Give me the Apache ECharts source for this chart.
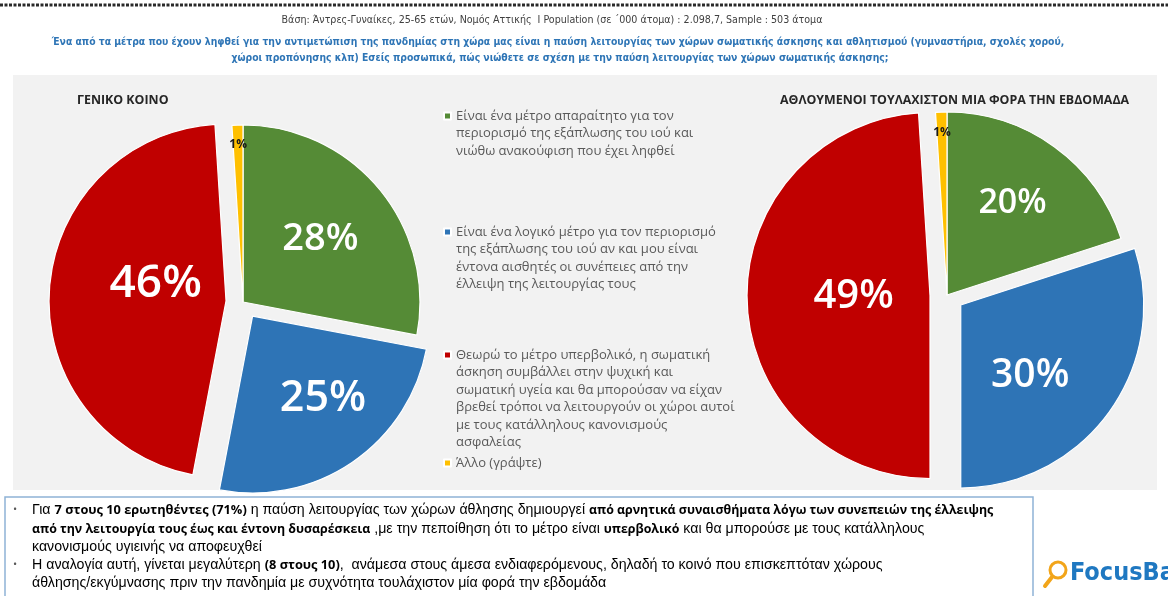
<!DOCTYPE html>
<html>
<head>
<meta charset="utf-8">
<script src="https://cdn.jsdelivr.net/npm/echarts@6/dist/echarts.min.js"></script>
<style>
  html, body { margin: 0; padding: 0; background: #ffffff; }
  #chart { width: 1168px; height: 596px; }
</style>
</head>
<body>
<div id="chart"></div>
<script>
// Answer options, each split into the lines shown in the legend
const categories = [
  ['Είναι ένα μέτρο απαραίτητο για τον', 'περιορισμό της εξάπλωσης του ιού και', 'νιώθω ανακούφιση που έχει ληφθεί'],
  ['Είναι ένα λογικό μέτρο για τον περιορισμό', 'της εξάπλωσης του ιού αν και μου είναι', 'έντονα αισθητές οι συνέπειες από την', 'έλλειψη της λειτουργίας τους'],
  ['Θεωρώ το μέτρο υπερβολικό, η σωματική', 'άσκηση συμβάλλει στην ψυχική και', 'σωματική υγεία και θα μπορούσαν να είχαν', 'βρεθεί τρόποι να λειτουργούν οι χώροι αυτοί', 'με τους κατάλληλους κανονισμούς', 'ασφαλείας'],
  ['Άλλο (γράψτε)']
];
// Shares (%) per group
const generalPublic = [28, 25, 46, 1];
const weeklyAthletes = [20, 30, 49, 1];
const groupTitles = ['ΓΕΝΙΚΟ ΚΟΙΝΟ', 'ΑΘΛΟΥΜΕΝΟΙ ΤΟΥΛΑΧΙΣΤΟΝ ΜΙΑ ΦΟΡΑ ΤΗΝ ΕΒΔΟΜΑΔΑ'];

const baseLine = 'Βάση: Άντρες-Γυναίκες, 25-65 ετών, Νομός Αττικής  I Population (σε ΄000 άτομα) : 2.098,7, Sample : 503 άτομα';
const questionLines = [
  'Ένα από τα μέτρα που έχουν ληφθεί για την αντιμετώπιση της πανδημίας στη χώρα μας είναι η παύση λειτουργίας των χώρων σωματικής άσκησης και αθλητισμού (γυμναστήρια, σχολές χορού,',
  'χώροι προπόνησης κλπ) Εσείς προσωπικά, πώς νιώθετε σε σχέση με την παύση λειτουργίας των χώρων σωματικής άσκησης;'
];
const noteLines = [
  '{n|Για }{b|7 στους 10 ερωτηθέντες (71%)}{n| η παύση λειτουργίας των χώρων άθλησης δημιουργεί }{k|από αρνητικά συναισθήματα λόγω των συνεπειών της έλλειψης}',
  '{k|από την λειτουργία τους έως και έντονη δυσαρέσκεια}{n| ,με την πεποίθηση ότι το μέτρο είναι }{k|υπερβολικό}{n| και θα μπορούσε με τους κατάλληλους}',
  '{n|κανονισμούς υγιεινής να αποφευχθεί}',
  '{n|Η αναλογία αυτή, γίνεται μεγαλύτερη }{b|(8 στους 10)}{n|,  ανάμεσα στους άμεσα ενδιαφερόμενους, δηλαδή το κοινό που επισκεπτόταν χώρους}',
  '{n|άθλησης/εκγύμνασης πριν την πανδημία με συχνότητα τουλάχιστον μία φορά την εβδομάδα}'
];

const names = categories.map(lines => lines.join(' '));
const colors = ['#558b36', '#2e74b6', '#c00000', '#ffc000'];
const SANS = "'Open Sans', 'Noto Sans', sans-serif";
const NARROW = "'Liberation Sans Narrow', 'DejaVu Sans Condensed', 'Liberation Sans', sans-serif";
const REGULAR = "'Liberation Sans', Arial, sans-serif";

// Exploded slices: the two larger answer groups pull away from the centre
const exploded = [false, true, true, false];

function pieSeries(values, center, radius, labelSizes, labelNudges) {
  return {
    type: 'pie',
    center: center,
    radius: radius,
    startAngle: 90,
    clockwise: true,
    selectedMode: 'multiple',
    selectedOffset: 17,
    avoidLabelOverlap: false,
    emphasis: { disabled: true },
    itemStyle: { borderColor: '#ffffff', borderWidth: 1.2 },
    label: {
      position: 'inside',
      formatter: '{c}%',
      fontFamily: SANS,
      fontWeight: 600,
      color: '#ffffff'
    },
    labelLine: { show: false },
    labelLayout: function (p) {
      // the tiny "other" slice carries its label near the rim
      if (p.dataIndex === 3) return { dy: -0.37 * radius, dx: -2 };
      const d = labelNudges[p.dataIndex];
      return { dx: d[0], dy: d[1] };
    },
    data: values.map((v, i) => ({
      name: names[i],
      value: v,
      selected: exploded[i],
      itemStyle: { color: colors[i] },
      label: i === 3
        ? { fontSize: 12, fontWeight: 'bold', color: '#1a1a1a' }
        : { fontSize: labelSizes[i] }
    }))
  };
}

// Legend entries: one block each, the marker sitting on the first text line
const LH = 17.5;
const legendFirstLine = [116, 232, 355, 463];
const legends = categories.map((lines, i) => {
  const n = lines.length;
  // leading blank lines keep the marker level with the first line of text
  const pad = new Array(n - 1).fill('').map(() => ' ');
  return {
    data: [names[i]],
    left: 443,
    top: legendFirstLine[i] - (2 * n - 1) * LH / 2,
    padding: 0,
    icon: 'rect',
    itemWidth: 7,
    itemHeight: 7,
    selectedMode: false,
    formatter: () => pad.concat(lines).join('\n'),
    textStyle: {
      fontFamily: SANS,
      fontSize: 13,
      color: '#595959',
      lineHeight: LH
    }
  };
});

const chart = echarts.init(document.getElementById('chart'), null, { renderer: 'canvas' });

const titleStyle = { fontFamily: SANS, fontSize: 12.4, fontWeight: 'bold', color: '#262626' };

const option = {
  backgroundColor: '#ffffff',
  animation: false,
  title: [
    { text: groupTitles[0], left: 72, top: 89, textStyle: titleStyle },
    { text: groupTitles[1], left: 775, top: 89, textStyle: titleStyle }
  ],
  legend: legends,
  graphic: [
    // dotted rule along the top
    { type: 'line', z: 0, silent: true, shape: { x1: 0, y1: 5, x2: 1168, y2: 5 },
      style: { stroke: '#2a2a2a', lineWidth: 3, lineDash: [3, 1.5] } },
    { type: 'text', z: 0, silent: true, x: 552, y: 20,
      style: { text: baseLine, align: 'center', verticalAlign: 'middle', font: '10.6px ' + NARROW, fill: '#404040' } },
    { type: 'text', z: 0, silent: true, x: 558, y: 42,
      style: { text: questionLines[0], align: 'center', verticalAlign: 'middle', font: 'bold 10.3px ' + NARROW, fill: '#2e75b6' } },
    { type: 'text', z: 0, silent: true, x: 560, y: 58,
      style: { text: questionLines[1], align: 'center', verticalAlign: 'middle', font: 'bold 10.3px ' + NARROW, fill: '#2e75b6' } },
    // light panel behind the two pies
    { type: 'rect', z: -10, silent: true, shape: { x: 13, y: 75, width: 1144, height: 415 },
      style: { fill: '#f2f2f2' } },
    // commentary box
    { type: 'rect', z: 0, silent: true, shape: { x: 5, y: 497, width: 1028, height: 110 },
      style: { fill: '#ffffff', stroke: '#8fb3d6', lineWidth: 1.5 } },
    { type: 'text', z: 1, silent: true, x: 13, y: 510,
      style: { text: '•', verticalAlign: 'middle', font: '11px ' + SANS, fill: '#595959' } },
    { type: 'text', z: 1, silent: true, x: 13, y: 565,
      style: { text: '•', verticalAlign: 'middle', font: '11px ' + SANS, fill: '#595959' } }
  ].concat(noteLines.map((t, i) => ({
    type: 'text', z: 1, silent: true, x: 32, y: [510, 529, 547, 565, 583][i],
    style: {
      text: t, verticalAlign: 'middle',
      rich: {
        n: { fontFamily: REGULAR, fontSize: 14.2, color: '#595959' },
        k: { fontFamily: SANS, fontSize: 12.4, fontWeight: 'bold', color: '#303030' },
        b: { fontFamily: SANS, fontSize: 12.8, fontWeight: 'bold', color: '#2e75b6' }
      }
    }
  }))).concat([
    // FocusBari mark
    { type: 'circle', z: 1, silent: true, shape: { cx: 1058, cy: 570, r: 8 },
      style: { fill: 'none', stroke: '#f2a51a', lineWidth: 3 } },
    { type: 'line', z: 1, silent: true, shape: { x1: 1052, y1: 577, x2: 1045, y2: 586 },
      style: { stroke: '#f2a51a', lineWidth: 4, lineCap: 'round' } },
    { type: 'text', z: 1, silent: true, x: 1070, y: 573,
      style: { text: 'FocusBari', verticalAlign: 'middle', font: 'bold 25px ' + NARROW, fill: '#1f78c1' } }
  ]),
  series: [
    pieSeries(generalPublic, [243, 302], 177, [38, 43, 46], [[7, -5], [19, 7], [21, -11]]),
    pieSeries(weeklyAthletes, [947, 295], 183, [34, 39, 40], [[10, -15], [-7, 15], [18, -2]])
  ]
};

chart.setOption(option);
</script>
</body>
</html>
